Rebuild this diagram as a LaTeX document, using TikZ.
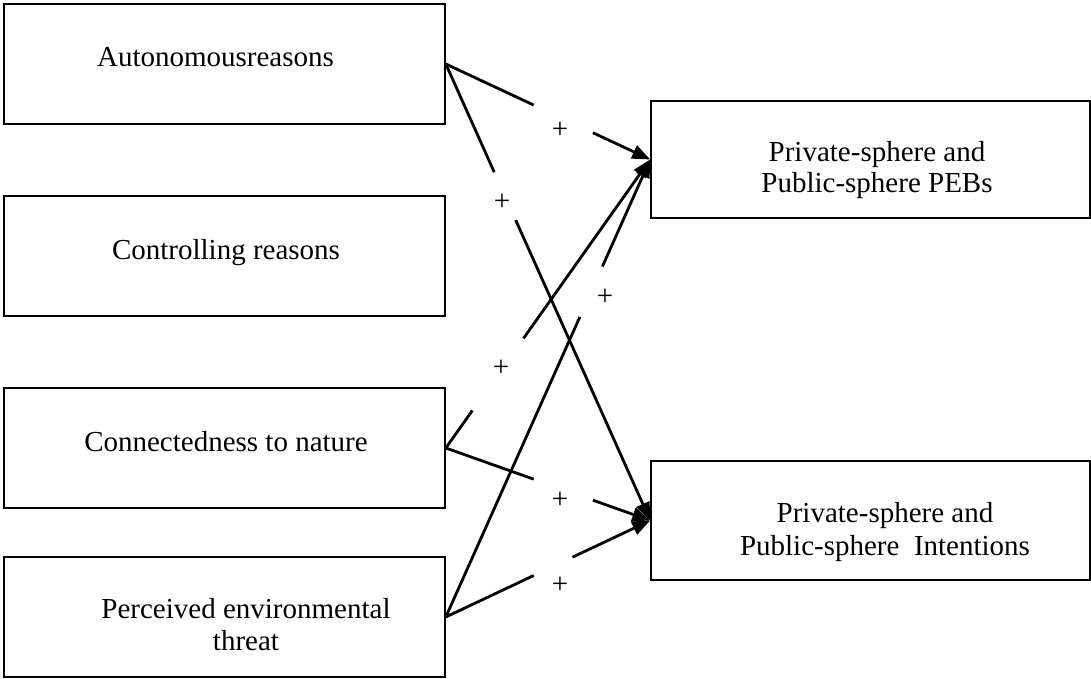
\documentclass[tikz,border=0pt]{standalone}
\usepackage{fontspec}
\setmainfont{Liberation Serif}
\usetikzlibrary{arrows.meta}
\begin{document}
\begin{tikzpicture}[x=1pt,y=-1pt,
  box/.style={draw, line width=1.6pt, inner sep=0},
  txt/.style={inner sep=0, anchor=base, font=\fontsize{29}{34}\selectfont},
  plus/.style={inner sep=0, font=\fontsize{29}{34}\selectfont},
  conn/.style={line width=2.8pt},
  arr/.style={conn, -{Triangle[length=18pt,width=14pt]}}]
\useasboundingbox (0,0) rectangle (1091,679);
\fill[white] (0,0) rectangle (1091,679);
% boxes
\node[box, minimum width=441pt, minimum height=120pt] (A) at (224.5,64) {};
\node[box, minimum width=441pt, minimum height=120pt] (B) at (224.5,256) {};
\node[box, minimum width=441pt, minimum height=120pt] (C) at (224.5,448) {};
\node[box, minimum width=441pt, minimum height=120pt] (D) at (224.5,617) {};
\node[box, minimum width=439pt, minimum height=117pt] (P) at (870.5,159.5) {};
\node[box, minimum width=439pt, minimum height=119pt] (I) at (870.5,520.5) {};
% texts
\node[txt] (tA) at (215.5,67) {Autonomousreasons};
\node[txt] (tB) at (226,259) {Controlling reasons};
\node[txt] (tC) at (226,451) {Connectedness to nature};
\node[txt] (tD1) at (246,618) {Perceived environmental};
\node[txt] (tD2) at (246,650) {threat};
\node[txt] (tP1) at (877,161) {Private-sphere and};
\node[txt] (tP2) at (877,192) {Public-sphere PEBs};
\node[txt] (tI1) at (885,522) {Private-sphere and};
\node[txt] (tI2) at (885,555) {Public-sphere\ \ Intentions};
% gap coordinates
\path (A.east) -- (P.west) coordinate[pos=.43] (g1s) coordinate[pos=.72] (g1e);
\path (A.east) -- (I.west) coordinate[pos=.237] (g2s) coordinate[pos=.342] (g2e);
\path (C.east) -- (P.west) coordinate[pos=.13] (g3s) coordinate[pos=.38] (g3e);
\path (D.east) -- (P.west) coordinate[pos=.656] (g4s) coordinate[pos=.766] (g4e);
\path (C.east) -- (I.west) coordinate[pos=.43] (g5s) coordinate[pos=.72] (g5e);
\path (D.east) -- (I.west) coordinate[pos=.43] (g6s) coordinate[pos=.62] (g6e);
% connectors
\draw[conn] (A.east) -- (g1s); \draw[arr] (g1e) -- (P.west);
\draw[conn] (A.east) -- (g2s); \draw[arr] (g2e) -- (I.west);
\draw[conn] (C.east) -- (g3s); \draw[arr] (g3e) -- (P.west);
\draw[conn] (D.east) -- (g4s); \draw[arr] (g4e) -- (P.west);
\draw[conn] (C.east) -- (g5s); \draw[arr] (g5e) -- (I.west);
\draw[conn] (D.east) -- (g6s); \draw[arr] (g6e) -- (I.west);
% labels
\node[plus] (p1) at (560,130) {+};
\node[plus] (p2) at (502,202) {+};
\node[plus] (p3) at (501,368) {+};
\node[plus] (p4) at (605,297) {+};
\node[plus] (p5) at (560,500) {+};
\node[plus] (p6) at (560,585) {+};
\end{tikzpicture}
\end{document}
